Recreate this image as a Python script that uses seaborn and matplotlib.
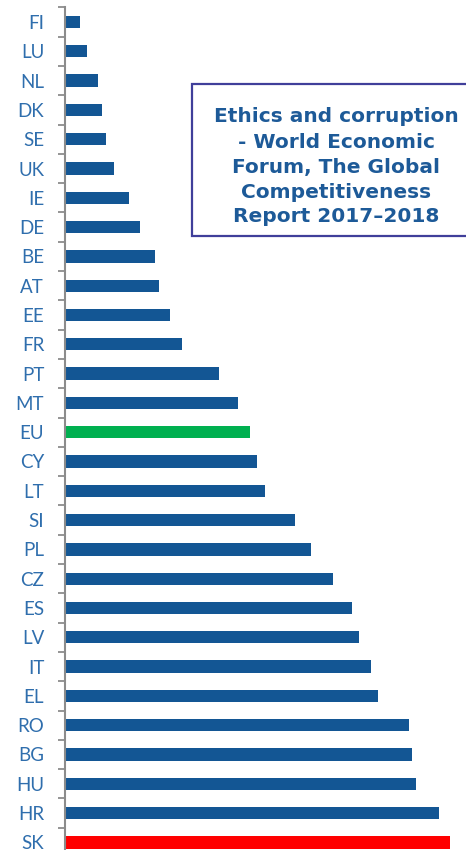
import pandas as pd
import matplotlib
matplotlib.use("Agg")
import matplotlib.pyplot as plt
from matplotlib.patches import Rectangle
import seaborn as sns

sns.set_theme(style="white")
plt.rcParams['font.family'] = ['Lato', 'DejaVu Sans']

countries = ["FI", "LU", "NL", "DK", "SE", "UK", "IE", "DE", "BE", "AT", "EE", "FR",
             "PT", "MT", "EU", "CY", "LT", "SI", "PL", "CZ", "ES", "LV", "IT", "EL",
             "RO", "BG", "HU", "HR", "SK"]
values = [15, 22, 33, 37, 41, 49, 64, 75, 90, 94, 105, 117,
          154, 173, 185, 192, 200, 230, 246, 268, 287, 294, 306, 313,
          344, 347, 351, 374, 385]

BLUE = "#135694"
highlight = {"EU": "#00B050", "SK": "#FF0000"}
colors = {c: highlight.get(c, BLUE) for c in countries}

data = pd.DataFrame({"country": countries, "value": values})

fig = plt.figure(figsize=(4.66, 8.5), dpi=100)
ax = fig.add_axes([65 / 466, -7 / 850, 1 - 65 / 466, (857 - 7.4) / 850])

sns.barplot(data=data, x="value", y="country", hue="country", palette=colors,
            orient="h", width=0.42, saturation=1, linewidth=0, legend=False, ax=ax)

ax.set_xlim(0, 401)
ax.set_ylim(len(countries) - 0.5, -0.5)
ax.set_xlabel("")
ax.set_ylabel("")
ax.set_xticks([])

# labels at the bar centres, tick marks on the category boundaries
ax.set_yticks([i - 0.5 for i in range(len(countries) + 1)])
ax.set_yticklabels([])
ax.set_yticks(range(len(countries)), minor=True)
ax.set_yticklabels(countries, minor=True, color="#2F6EAD", fontsize=13.5)
ax.tick_params(axis="y", which="major", length=5, width=1.3, color="#8C8C8C", left=True)
ax.tick_params(axis="y", which="minor", length=0, pad=15)

for side in ["top", "right", "bottom"]:
    ax.spines[side].set_visible(False)
ax.spines["left"].set_color("#8C8C8C")
ax.spines["left"].set_linewidth(1.5)

# title box
fig.patches.append(Rectangle((192 / 466, 1 - 236 / 850), 290 / 466, 152 / 850,
                             transform=fig.transFigure, fill=True, facecolor="white",
                             edgecolor="#403F9A", linewidth=1.6, zorder=5))
fig.text(336 / 466, 1 - 167 / 850,
         "Ethics and corruption\n- World Economic\nForum, The Global\nCompetitiveness\nReport 2017\u20132018",
         ha="center", va="center", color="#1D5A98", fontsize=14.5, fontweight="bold",
         family=["DejaVu Sans"], linespacing=1.4, zorder=6)

fig.savefig("out.png", dpi=100)
